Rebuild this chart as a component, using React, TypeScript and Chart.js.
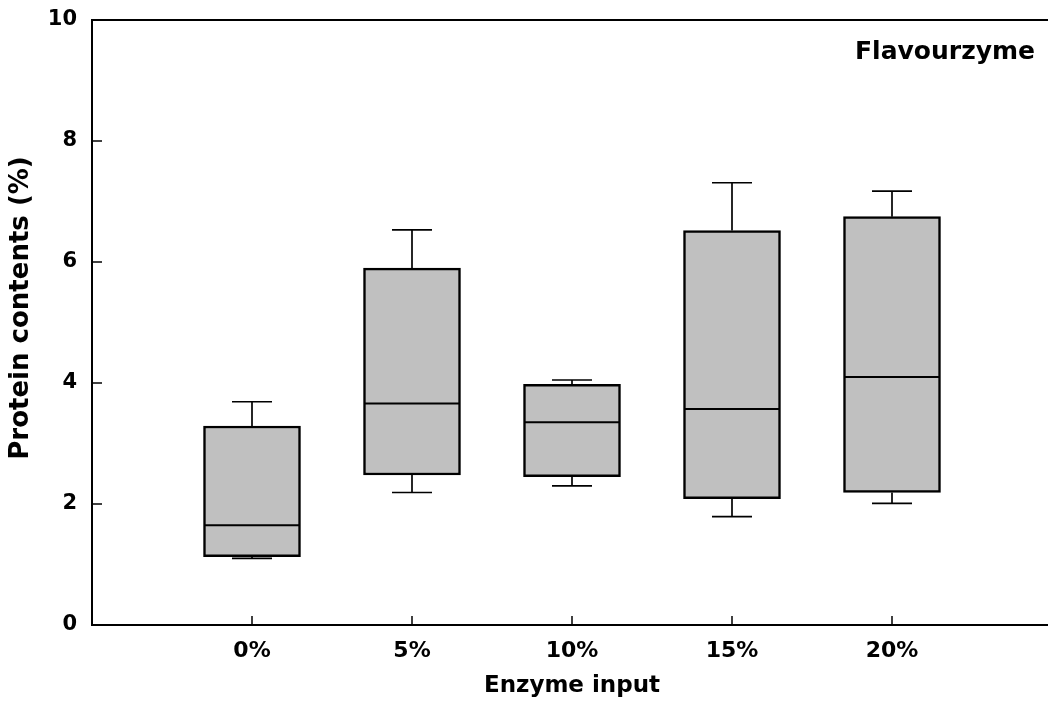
import React, { useEffect, useRef } from "react";
import { Chart, registerables } from "chart.js";

Chart.register(...registerables);

const categories = ["0%", "5%", "10%", "15%", "20%"];
const whiskerLow = [1.1, 2.19, 2.3, 1.79, 2.01];
const q1 = [1.13, 2.48, 2.45, 2.09, 2.19];
const median = [1.65, 3.66, 3.35, 3.57, 4.1];
const q3 = [3.29, 5.9, 3.98, 6.52, 6.75];
const whiskerHigh = [3.69, 6.53, 4.05, 7.31, 7.17];
const yInnerTicks = [2, 4, 6, 8];
const panelLabel = "Flavourzyme";
const xTitle = "Enzyme input";
const yTitle = "Protein contents (%)";

const FONT = "'DejaVu Sans', 'Liberation Sans', Arial, sans-serif";

const boxPlugin = {
  id: "boxExtras",
  afterDatasetsDraw(chart: any) {
    const { ctx, chartArea, scales } = chart;
    const x = scales.x;
    const y = scales.y;
    ctx.save();
    ctx.strokeStyle = "#000";
    ctx.lineCap = "butt";
    const seg = (x1: number, y1: number, x2: number, y2: number, w: number) => {
      ctx.lineWidth = w;
      ctx.beginPath();
      ctx.moveTo(x1, y1);
      ctx.lineTo(x2, y2);
      ctx.stroke();
    };
    categories.forEach((_, i) => {
      const cx = x.getPixelForValue(i);
      const capL = x.getPixelForValue(i - 0.125);
      const capR = x.getPixelForValue(i + 0.125);
      const boxL = x.getPixelForValue(i - 0.3);
      const boxR = x.getPixelForValue(i + 0.3);
      const yHi = y.getPixelForValue(whiskerHigh[i]);
      const yLo = y.getPixelForValue(whiskerLow[i]);
      const yQ3 = y.getPixelForValue(q3[i]);
      const yQ1 = y.getPixelForValue(q1[i]);
      const yMed = y.getPixelForValue(median[i]);
      seg(cx, yQ3, cx, yHi, 1.7);
      seg(capL, yHi, capR, yHi, 1.7);
      seg(cx, yQ1, cx, yLo, 1.7);
      seg(capL, yLo, capR, yLo, 1.7);
      seg(boxL, yMed, boxR, yMed, 2);
    });
    // top frame line
    seg(chartArea.left - 1, chartArea.top, chartArea.right + 10, chartArea.top, 2);
    // inside ticks
    yInnerTicks.forEach((v) => {
      const py = y.getPixelForValue(v);
      seg(chartArea.left, py, chartArea.left + 10, py, 1.5);
    });
    categories.forEach((_, i) => {
      const px = x.getPixelForValue(i);
      seg(px, chartArea.bottom, px, chartArea.bottom - 9, 1.5);
    });
    // panel label
    ctx.fillStyle = "#000";
    ctx.font = `bold 25px ${FONT}`;
    ctx.textAlign = "right";
    ctx.textBaseline = "alphabetic";
    ctx.fillText(panelLabel, 1035, 59);
    // y axis title
    ctx.save();
    ctx.translate(21, 308);
    ctx.rotate(-Math.PI / 2);
    ctx.font = `bold 26px ${FONT}`;
    ctx.textAlign = "center";
    ctx.textBaseline = "middle";
    ctx.fillText(yTitle, 0, 0);
    ctx.restore();
    ctx.restore();
  },
};

export default function App() {
  const canvasRef = useRef<HTMLCanvasElement | null>(null);

  useEffect(() => {
    const canvas = canvasRef.current;
    if (!canvas) return;
    const chart = new Chart(canvas, {
      type: "bar",
      data: {
        datasets: [
          {
            label: "IQR",
            data: categories.map((_, i) => ({ x: i, y: [q1[i], q3[i]] })) as any,
            backgroundColor: "#c0c0c0",
            borderColor: "#000",
            borderWidth: 2.5,
            borderSkipped: false,
            barThickness: 97,
          },
        ],
      },
      options: {
        responsive: false,
        animation: false,
        devicePixelRatio: 1,
        layout: { padding: { top: 20, right: 8, left: 0, bottom: 0 } },
        plugins: {
          legend: { display: false },
          tooltip: { enabled: false },
        },
        scales: {
          x: {
            type: "linear",
            min: -1,
            max: 5,
            offset: false,
            grid: { display: false, drawTicks: false, offset: false },
            border: { display: true, color: "#000", width: 2 },
            ticks: {
              stepSize: 1,
              autoSkip: false,
              maxRotation: 0,
              padding: 13,
              color: "#000",
              font: { family: FONT, weight: "bold", size: 22 },
              callback: (v: any) => {
                const n = Number(v);
                return Number.isInteger(n) && n >= 0 && n < categories.length ? categories[n] : "";
              },
            },
            title: {
              display: true,
              text: xTitle,
              color: "#000",
              font: { family: FONT, weight: "bold", size: 23 },
              padding: { top: 0, bottom: 4 },
            },
            afterFit: (scale: any) => {
              scale.height = 79;
              scale.paddingLeft = 0;
              scale.paddingRight = 0;
            },
          },
          y: {
            type: "linear",
            min: 0,
            max: 10,
            grid: { display: false, drawTicks: false },
            border: { display: true, color: "#000", width: 2 },
            ticks: {
              stepSize: 2,
              padding: 15,
              color: "#000",
              font: { family: FONT, weight: "bold", size: 21 },
            },
            title: { display: false },
            afterFit: (scale: any) => {
              scale.width = 92;
              scale.paddingTop = 0;
              scale.paddingBottom = 0;
            },
          },
        },
      },
      plugins: [boxPlugin],
    });
    return () => chart.destroy();
  }, []);

  return (
    <div
      style={{
        position: "absolute",
        left: 0,
        top: 0,
        width: 1048,
        height: 704,
        overflow: "hidden",
        background: "#fff",
      }}
    >
      <canvas ref={canvasRef} width={1060} height={704} style={{ display: "block" }} />
    </div>
  );
}
